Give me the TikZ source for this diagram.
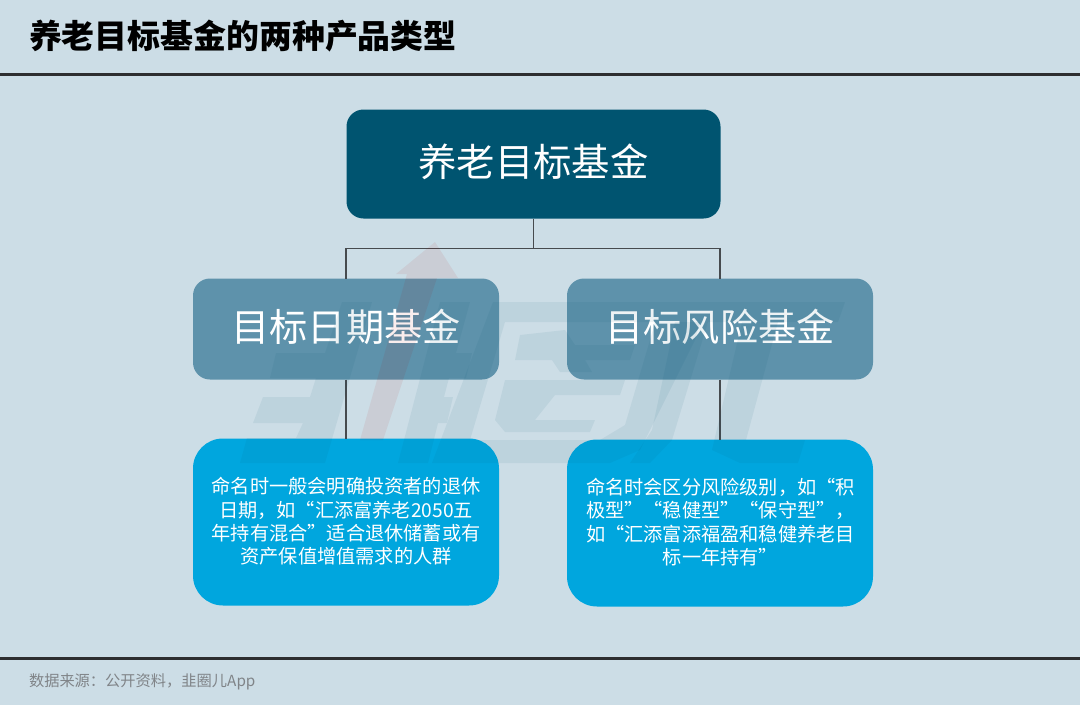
\documentclass[tikz,border=0pt]{standalone}
\usepackage{fontspec}
\usepackage{tikz}
\setmainfont{Noto Sans CJK SC}
\usetikzlibrary{calc,positioning}
\definecolor{PageBlue}{RGB}{204,221,230}
\definecolor{RootTeal}{RGB}{0,84,112}
\definecolor{BranchTeal}{RGB}{94,146,171}
\definecolor{NoteBlue}{RGB}{0,166,222}
\definecolor{RuleDark}{RGB}{45,46,48}
\definecolor{LinkGrey}{RGB}{70,74,78}
\definecolor{FootGrey}{RGB}{128,132,136}

\begin{document}
\begin{tikzpicture}[x=1pt,y=-1pt]

  % Styles
  \tikzstyle{every node}=[text centered,inner sep=0pt,outer sep=0pt]
  \tikzstyle{root}=[fill=RootTeal,text=white,rounded corners=17pt,minimum width=374pt,minimum height=109pt,font=\fontsize{38.4}{44}\selectfont]
  \tikzstyle{branch}=[fill=BranchTeal,text=white,rounded corners=17pt,minimum width=306pt,minimum height=101pt,font=\fontsize{38.2}{44}\selectfont]
  \tikzstyle{note}=[fill=NoteBlue,text=white,rounded corners=30pt,minimum width=306pt,minimum height=167pt]
  \tikzstyle{notetext}=[text=white,text width=272pt,font=\fontsize{19.2}{23.3}\selectfont]
  \tikzstyle{link}=[draw=LinkGrey,line width=1.1pt]
  \tikzstyle{rule}=[draw=RuleDark,line width=3pt]
  \tikzstyle{wmgrey}=[fill=RootTeal,opacity=0.07]
  \tikzstyle{wmred}=[fill=red!70!black,opacity=0.07]

  % \lifted{<label>}
  \newcommand{\lifted}[1]{\raisebox{8pt}{#1}}
  % full width comma and colon
  \newcommand{\cnc}{^^^^ff0c}
  \newcommand{\cnk}{^^^^ff1a}

  % Background
  \fill[PageBlue] (0,0) rectangle (1080,705);
  \useasboundingbox (0,0) rectangle (1080,705);

  % Header and footer
  \node[anchor=west,font=\fontsize{32.9}{36}\selectfont\bfseries] (title) at (29,36) {养老目标基金的两种产品类型};
  \coordinate (headL) at (0,74);
  \coordinate (headR) at (1080,74);
  \coordinate (footL) at (0,658.5);
  \coordinate (footR) at (1080,658.5);
  \draw[rule] (headL) -- (headR);
  \draw[rule] (footL) -- (footR);
  \node[anchor=west,text=FootGrey,font=\fontsize{15.25}{18}\selectfont] (source) at (29,681.5) {数据来源\cnk{}公开资料\cnc{}韭圈儿App};

  % Draw nodes
  \node[root] (fund) at (533.5,164) {\lifted{养老目标基金}};
  \node[branch] (date) at (346,329) {\lifted{目标日期基金}};
  \node[branch] (risk) at (720,329) {\lifted{目标风险基金}};
  \node[note] (datenote) at (346,522) {};
  \node[note] (risknote) at (720,523) {};
  \node[notetext] (datetext) at (346,521.5) {命名时一般会明确投资者的退休\\日期\cnc{}如“汇添富养老2050五\\年持有混合”适合退休储蓄或有\\资产保值增值需求的人群};
  \node[notetext] (risktext) at (720.5,522) {命名时会区分风险级别\cnc{}如“积\\极型”“稳健型”“保守型”\cnc{}\\如“汇添富添福盈和稳健养老目\\标一年持有”};

  % Draw connectors
  \coordinate (fork) at ($(fund.south)+(0,30)$);
  \draw[link] (fund.south) -- (fork);
  \draw[link] (date.north) -- (date.north |- fork) -- (risk.north |- fork) -- (risk.north);
  \draw[link] (date.south) -- (datenote.north);
  \draw[link] (risk.south) -- (risknote.north);

  % Watermark
  \fill[wmred] (435,242) -- (458,278) -- (437,278) -- (383,440) -- (360,440) -- (407,274) -- (396,274) -- cycle;
  % first character
  \fill[wmgrey] (342,302) -- (372,302) -- (325,463) -- (240,463) -- (247,438) -- (296,438) -- (303,423) -- (253,423) -- (263,397) -- (310,397) -- (316,378) -- (270,378) -- (276,353) -- (325,353) -- cycle;
  \fill[wmgrey] (440,302) -- (470,302) -- (456,353) -- (472,353) -- (466,378) -- (449,378) -- (444,397) -- (453,397) -- (447,423) -- (438,423) -- (428,463) -- (398,463) -- cycle;
  % frame of the second character
  \fill[wmgrey,even odd rule] (493,302) -- (845,302) -- (838,322) -- (700,322) -- (695,340) -- (640,450) -- (610,463) -- (432,463) -- cycle
    (505,322) -- (470,440) -- (600,440) -- (625,425) -- (650,340) -- (655,322) -- cycle;
  % inside of the second character
  \fill[wmgrey] (520,335) -- (565,330) -- (575,345) -- (635,345) -- (630,360) -- (585,360) -- (592,372) -- (560,372) -- (552,360) -- (515,360) -- cycle;
  \fill[wmgrey] (505,380) -- (625,380) -- (620,395) -- (555,395) -- (535,420) -- (595,420) -- (590,432) -- (505,432) -- (495,420) -- cycle;
  % last character
  \fill[wmgrey] (675,322) -- (708,322) -- (672,440) -- (650,463) -- (630,463) -- (652,430) -- cycle;
  \fill[wmgrey] (742,322) -- (778,322) -- (746,440) -- (805,440) -- (798,463) -- (740,463) -- (712,450) -- cycle;
\end{tikzpicture}
\end{document}
